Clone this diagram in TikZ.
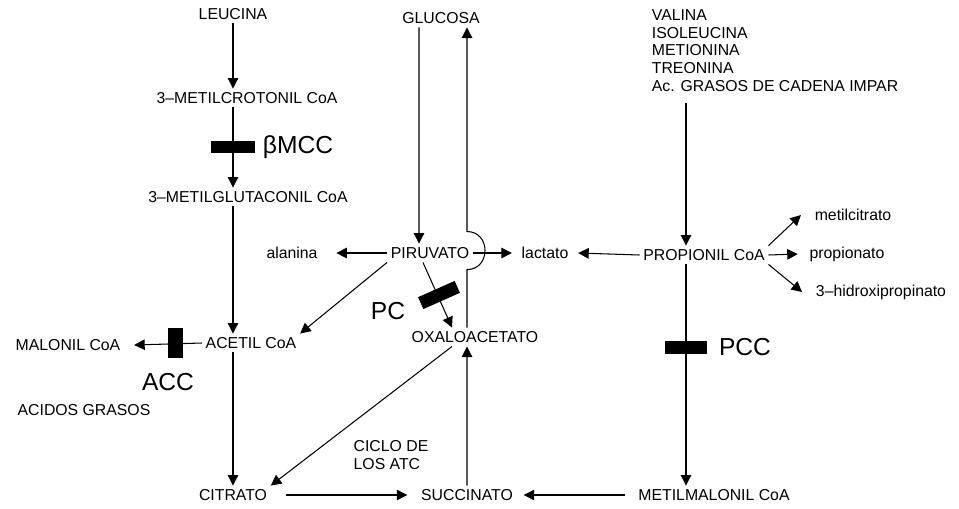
\documentclass[tikz,border=0pt]{standalone}
\usepackage{fontspec}
\setmainfont{Liberation Sans}
\usetikzlibrary{arrows.meta}

\tikzset{
  met/.style={font=\fontsize{9}{10}\selectfont, inner sep=2pt},
  enz/.style={font=\fontsize{14}{16}\selectfont, inner sep=0pt},
  bloq/.style={fill=black, inner sep=0pt},
  flecha/.style={-{Triangle[length=6pt,width=6pt]}, line width=0.6pt},
  linea/.style={line width=0.6pt}
}

\begin{document}
\begin{tikzpicture}[x=0.02cm,y=-0.02cm]
\useasboundingbox (0,0) rectangle (959,508);

% leucina
\node[met] (leu) at (233,14) {LEUCINA};
\node[met] (mcrot) at (247,98) {3--METILCROTONIL CoA};
\node[met] (mglut) at (248,197) {3--METILGLUTACONIL CoA};
\node[met] (acet) at (251,343) {ACETIL CoA};
\node[met] (mal) at (68,345) {MALONIL CoA};
\node[met] (acgr) at (84,410) {ACIDOS GRASOS};
\node[met] (cit) at (233,495) {CITRATO};

% centro
\node[met] (glu) at (441,18) {GLUCOSA};
\node[met] (piru) at (430,253) {PIRUVATO};
\node[met] (ala) at (292,253) {alanina};
\node[met] (lac) at (545,253) {lactato};
\node[met] (oxa) at (475,337) {OXALOACETATO};
\node[met] (suc) at (467,495) {SUCCINATO};
\node[met, align=left] (ciclo) at (391,455) {CICLO DE\\LOS ATC};

% propionil
\node[met, align=left, anchor=north west] (ami) at (648,6)
  {VALINA\\ISOLEUCINA\\METIONINA\\TREONINA\\Ac. GRASOS DE CADENA IMPAR};
\node[met] (prop) at (704,255) {PROPIONIL CoA};
\node[met] (metc) at (853,215) {metilcitrato};
\node[met] (propn) at (847,254) {propionato};
\node[met] (hid) at (881,292) {3--hidroxipropinato};
\node[met] (mm) at (714,495) {METILMALONIL CoA};

\coordinate (amib) at ([yshift=-0.16cm]ami.south);
\coordinate (colR) at (686,0);

% flechas
\draw[flecha] (leu) -- (leu |- mcrot.north);
\draw[flecha] (leu |- mcrot.south) -- (leu |- mglut.north);
\draw[flecha] (leu |- mglut.south) -- (leu |- acet.north);
\draw[flecha] (leu |- acet.south) -- (leu |- cit.north);
\draw[flecha] (acet.west) -- ([xshift=0.2cm]mal.east);

\draw[flecha] ([xshift=-0.44cm]glu.south) -- ([xshift=-0.22cm]piru.north);
\draw[flecha] (piru.west) -- ([xshift=0.3cm]ala.east);
\draw[flecha] (piru.east) -- ([xshift=-0.12cm]lac.west);
\draw[flecha] (piru.south west) -- (acet.north east);
\draw[flecha] ([xshift=-0.14cm]piru.south) -- ([xshift=-0.46cm]oxa.north);
\draw[flecha] ([xshift=-0.16cm]oxa.north) -- ++(0,-58)
  .. controls +(24,0) and +(24,0) .. ++(0,-38) -- ([xshift=0.52cm]glu.south);
\draw[flecha] ([xshift=-0.46cm]oxa.south) -- (cit.north east);
\draw[flecha] (suc.north) -- ([xshift=-0.16cm]oxa.south);
\draw[flecha] ([xshift=0.3cm]cit.east) -- ([xshift=-0.2cm]suc.west);
\draw[flecha] ([xshift=-0.2cm]mm.west) -- ([xshift=0.14cm]suc.east);

\draw[flecha] (amib -| colR) -- (prop.north -| colR);
\draw[flecha] (prop.south -| colR) -- (mm.north -| colR);
\draw[flecha] (prop.west) -- ([xshift=0.12cm]lac.east);
\draw[flecha] (prop.north east) -- ([xshift=-0.2cm]metc.west);
\draw[flecha] (prop.east) -- ([xshift=-0.16cm]propn.west);
\draw[flecha] (prop.south east) -- ([xshift=-0.2cm]hid.west);

% bloqueos
\node[bloq, minimum width=0.88cm, minimum height=0.24cm] (bmccb) at (233,147) {};
\node[enz] (bmcc) at (298,147) {βMCC};
\node[bloq, minimum width=0.3cm, minimum height=0.6cm] (accb) at (175,343) {};
\node[enz] (acc) at (168,382) {ACC};
\node[bloq, minimum width=0.8cm, minimum height=0.26cm, rotate=24] (pcb) at (439,295) {};
\node[enz] (pc) at (388,311) {PC};
\node[bloq, minimum width=0.84cm, minimum height=0.26cm] (pccb) at (686,347) {};
\node[enz] (pcc) at (745,347) {PCC};
\end{tikzpicture}
\end{document}
